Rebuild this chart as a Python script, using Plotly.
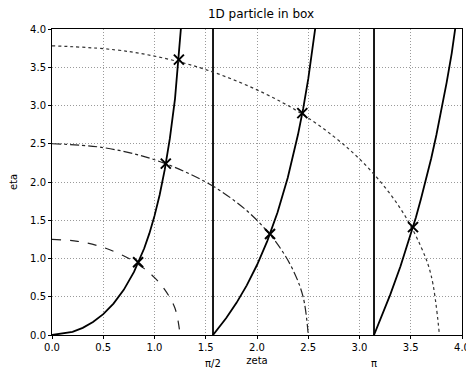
import plotly.graph_objects as go

# even branch: eta = zeta*tan(zeta) (values read/estimated along the curve; huge values mark the asymptote jump)
even_zeta = [0.0, 0.2, 0.3, 0.4, 0.5, 0.6, 0.7, 0.8, 0.9, 0.95, 1.0, 1.05, 1.1, 1.15, 1.2, 1.25, 1.3, 1.5707, 1.5709,
             None, 3.1416, 3.2, 3.3, 3.4, 3.5, 3.55, 3.6, 3.65, 3.7, 3.75, 3.8, 3.85, 3.9, 3.95, 4.0]
even_eta = [0.0, 0.041, 0.093, 0.169, 0.273, 0.410, 0.590, 0.824, 1.134, 1.328, 1.557, 1.830, 2.161, 2.570, 3.087, 3.762, 4.683, 10000, -10000,
            None, 0.0, 0.187, 0.527, 0.899, 1.311, 1.536, 1.780, 2.034, 2.311, 2.615, 2.939, 3.300, 3.685, 4.126, 4.631]

# odd branch: eta = -zeta*cot(zeta)
odd_zeta = [1.5708, 1.7, 1.8, 1.9, 2.0, 2.1, 2.2, 2.3, 2.4, 2.45, 2.5, 2.55, 2.6, 3.1415, 3.1417]
odd_eta = [0.0, 0.221, 0.420, 0.649, 0.915, 1.228, 1.601, 2.055, 2.620, 2.955, 3.347, 3.799, 4.318, 10000, -10000]

# circles zeta^2 + eta^2 = R^2
c1_zeta = [0.0, 0.25, 0.5, 0.75, 0.9, 1.0, 1.1, 1.2, 1.25]
c1_eta = [1.25, 1.2247, 1.1456, 1.0, 0.8675, 0.75, 0.5937, 0.35, 0.0]
c2_zeta = [0.0, 0.5, 1.0, 1.5, 1.8, 2.0, 2.2, 2.35, 2.45, 2.5]
c2_eta = [2.5, 2.4495, 2.2913, 2.0, 1.7349, 1.5, 1.1874, 0.8529, 0.4975, 0.0]
c3_zeta = [0.0, 0.75, 1.5, 2.25, 2.75, 3.1, 3.4, 3.6, 3.7, 3.78]
c3_eta = [3.78, 3.7049, 3.4696, 3.0374, 2.5934, 2.1630, 1.6518, 1.1526, 0.7736, 0.0]

# intersections
x_zeta = [0.84, 1.11, 1.238, 2.127, 2.442, 3.522]
x_eta = [0.95, 2.24, 3.60, 1.32, 2.90, 1.41]

xtick_vals = [0, 0.5, 1.0, 1.5, 2.0, 2.5, 3.0, 3.5, 4.0]
ytick_vals = [0, 0.5, 1.0, 1.5, 2.0, 2.5, 3.0, 3.5, 4.0]
extra_tick_vals = [1.5708, 3.1416]
extra_tick_text = ["π/2", "π"]

fig = go.Figure()
fig.add_trace(go.Scatter(x=even_zeta, y=even_eta, mode="lines", line=dict(color="black", width=1.8),
                         connectgaps=False, showlegend=False))
fig.add_trace(go.Scatter(x=odd_zeta, y=odd_eta, mode="lines", line=dict(color="black", width=1.8),
                         showlegend=False))
fig.add_trace(go.Scatter(x=c1_zeta, y=c1_eta, mode="lines", line=dict(color="#222", width=1.2, dash="dash", shape="spline"),
                         showlegend=False))
fig.add_trace(go.Scatter(x=c2_zeta, y=c2_eta, mode="lines", line=dict(color="#222", width=1.2, dash="dashdot", shape="spline"),
                         showlegend=False))
fig.add_trace(go.Scatter(x=c3_zeta, y=c3_eta, mode="lines", line=dict(color="#333", width=1.2, dash="dot", shape="spline"),
                         showlegend=False))
fig.add_trace(go.Scatter(x=x_zeta, y=x_eta, mode="markers",
                         marker=dict(symbol="x-thin", size=10, line=dict(color="black", width=2)),
                         showlegend=False))

for v, t in zip(extra_tick_vals, extra_tick_text):
    fig.add_annotation(x=v, y=0, xref="x", yref="paper", yshift=-28, text=t, showarrow=False,
                       font=dict(size=10, color="black", family="DejaVu Sans"), yanchor="middle")

axis_common = dict(range=[0, 4], showline=True, linecolor="black", linewidth=1, mirror=True,
                   showgrid=True, gridcolor="#9a9a9a", griddash="1px,2px", gridwidth=1, automargin=False,
                   ticks="outside", ticklen=3, tickcolor="black", tickformat=".1f",
                   tickfont=dict(size=10, color="black", family="DejaVu Sans"), zeroline=False)

# the page body adds an 8px offset, so the figure is 8px smaller and margins shifted
fig.update_layout(
    width=466, height=373,
    margin=dict(l=44, r=12, t=21, b=46),
    plot_bgcolor="white", paper_bgcolor="white",
    title=dict(text="1D particle in box", x=0.543, xanchor="center", y=1 - 6 / 373, yanchor="middle",
               font=dict(size=12, color="black", family="DejaVu Sans")),
    xaxis=dict(axis_common, tickvals=xtick_vals,
               title=dict(text="zeta", standoff=4, font=dict(size=10, color="black", family="DejaVu Sans"))),
    yaxis=dict(axis_common, tickvals=ytick_vals,
               title=dict(text="eta", standoff=20, font=dict(size=10, color="black", family="DejaVu Sans"))),
)

fig.write_html("out.html")
